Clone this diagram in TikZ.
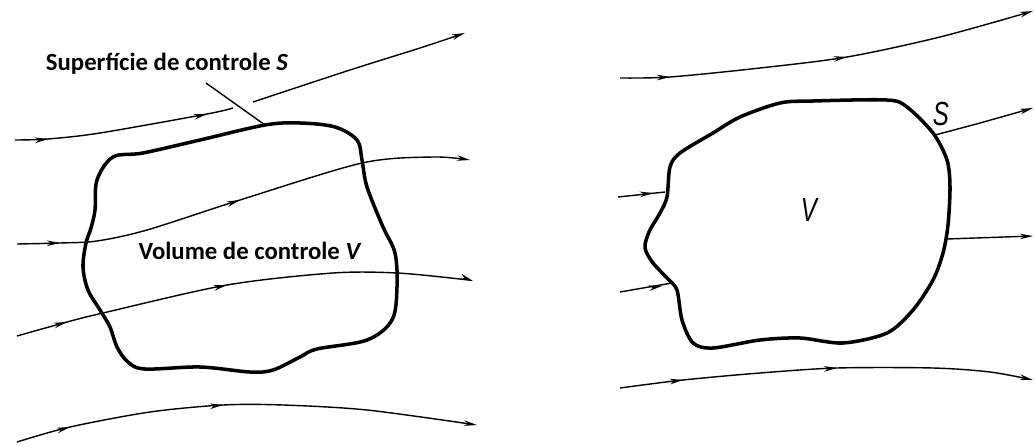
\documentclass[tikz,border=0pt]{standalone}
\usepackage{fontspec}
\setmainfont{Carlito}
\newfontfamily\isofont{Liberation Sans}
\usetikzlibrary{arrows.meta}
\tikzset{
  stream/.style={line width=0.8pt, black},
  surf/.style={line width=2pt, black, line join=round},
  tip/.style={-{Stealth[length=7.5pt,width=3.2pt]}},
  lbl/.style={font=\fontsize{14.1}{17}\selectfont\bfseries, inner sep=0pt},
  iso/.style={font=\isofont\itshape\fontsize{19}{22}\selectfont, inner sep=0pt, xscale=0.72}
}
\begin{document}
\begin{tikzpicture}[x=0.02cm,y=-0.02cm]
\useasboundingbox (0,0) rectangle (1035,446);
% ---------------- left panel ----------------
% streamline 1 (split where the leader crosses)
\draw[stream] plot[smooth, tension=0.5] coordinates
  {(15,140) (48,139) (100,133) (207,114) (233,108)};
\draw[stream, tip] plot[smooth, tension=0.5] coordinates
  {(253,102) (350,70) (420,48) (465,33)};
\draw[stream, tip] (38,140) -- (48,139);
\draw[stream, tip] (197,116.3) -- (207,114);
% streamline 2
\draw[stream, tip] plot[smooth, tension=0.5] coordinates
  {(17,244) (60,243) (97,241) (147,230) (240,200) (362,163) (433,157) (470,160)};
\draw[stream, tip] (50,243.2) -- (60,243);
\draw[stream, tip] (230,203.3) -- (240,200);
% streamline 3
\draw[stream, tip] plot[smooth, tension=0.5] coordinates
  {(17,336) (67,322) (103,313) (227,285) (333,273) (397,273) (460,279) (473,281)};
\draw[stream, tip] (57,324.8) -- (67,322);
\draw[stream, tip] (217,287.3) -- (227,285);
% streamline 4
\draw[stream, tip] plot[smooth, tension=0.5] coordinates
  {(17,442) (70,427) (150,412) (223,405) (283,405) (367,410) (477,425)};
\draw[stream, tip] (60,429.8) -- (70,427);
\draw[stream, tip] (213,406) -- (223,405);
% control surface S (left)
\draw[surf] plot[smooth cycle, tension=0.55] coordinates
  {(113,157) (143,153) (200,140) (265,125) (300,123) (335,127) (357,140)
   (362,160) (367,187) (383,227) (395,253) (397,287) (392,320) (367,340)
   (317,349) (300,357) (273,370) (250,372) (200,367) (145,369) (128,362)
   (117,347) (110,327) (100,310) (88,290) (83,267) (86,243) (91,228)
   (95,210) (97,180)};
% labels and leader
\node[lbl] (lS) at (167,64) {Superfície de controle \textit{S}};
\coordinate (ldA) at (206,83);
\coordinate (ldB) at (265,125);
\draw[stream] (ldA) -- (ldB);
\node[lbl] (lV) at (250,251) {Volume de controle \textit{V}};
% ---------------- right panel ----------------
\draw[stream, tip] plot[smooth, tension=0.5] coordinates
  {(620,78) (670,77) (760,68) (847,57) (940,37) (1033,11)};
\draw[stream, tip] (660,77.4) -- (670,77);
\draw[stream, tip] (837,58.5) -- (847,57);
\draw[stream, tip] plot[smooth, tension=0.5] coordinates
  {(935,135) (980,123) (1033,108)};
\draw[stream] (618,197) -- (665,192);
\draw[stream, tip] (643,194.1) -- (653,193);
\draw[stream] (620,292) -- (672,283);
\draw[stream, tip] (652,287.7) -- (662,286);
\draw[stream, tip] (947,239) -- (1033,236);
\draw[stream, tip] plot[smooth, tension=0.5] coordinates
  {(620,388) (683,380) (760,373) (837,368) (933,368) (990,372) (1033,380)};
\draw[stream, tip] (673,381.2) -- (683,380);
\draw[stream, tip] (827,368.7) -- (837,368);
% control surface S (right)
\draw[surf] plot[smooth cycle, tension=0.5] coordinates
  {(813,101) (887,100) (907,107) (933,133) (947,160) (950,187) (948,225)
   (943,253) (933,280) (913,310) (887,333) (843,343) (800,338) (760,340)
   (713,348) (693,343) (682,320) (677,290) (668,279) (653,263) (645,248)
   (649,232) (660,213) (667,197) (670,167) (680,153) (713,133) (740,117)
   (780,103)};
\node[iso] (rS) at (941,114) {S};
\node[iso] (rV) at (809,210) {V};
\end{tikzpicture}
\end{document}
